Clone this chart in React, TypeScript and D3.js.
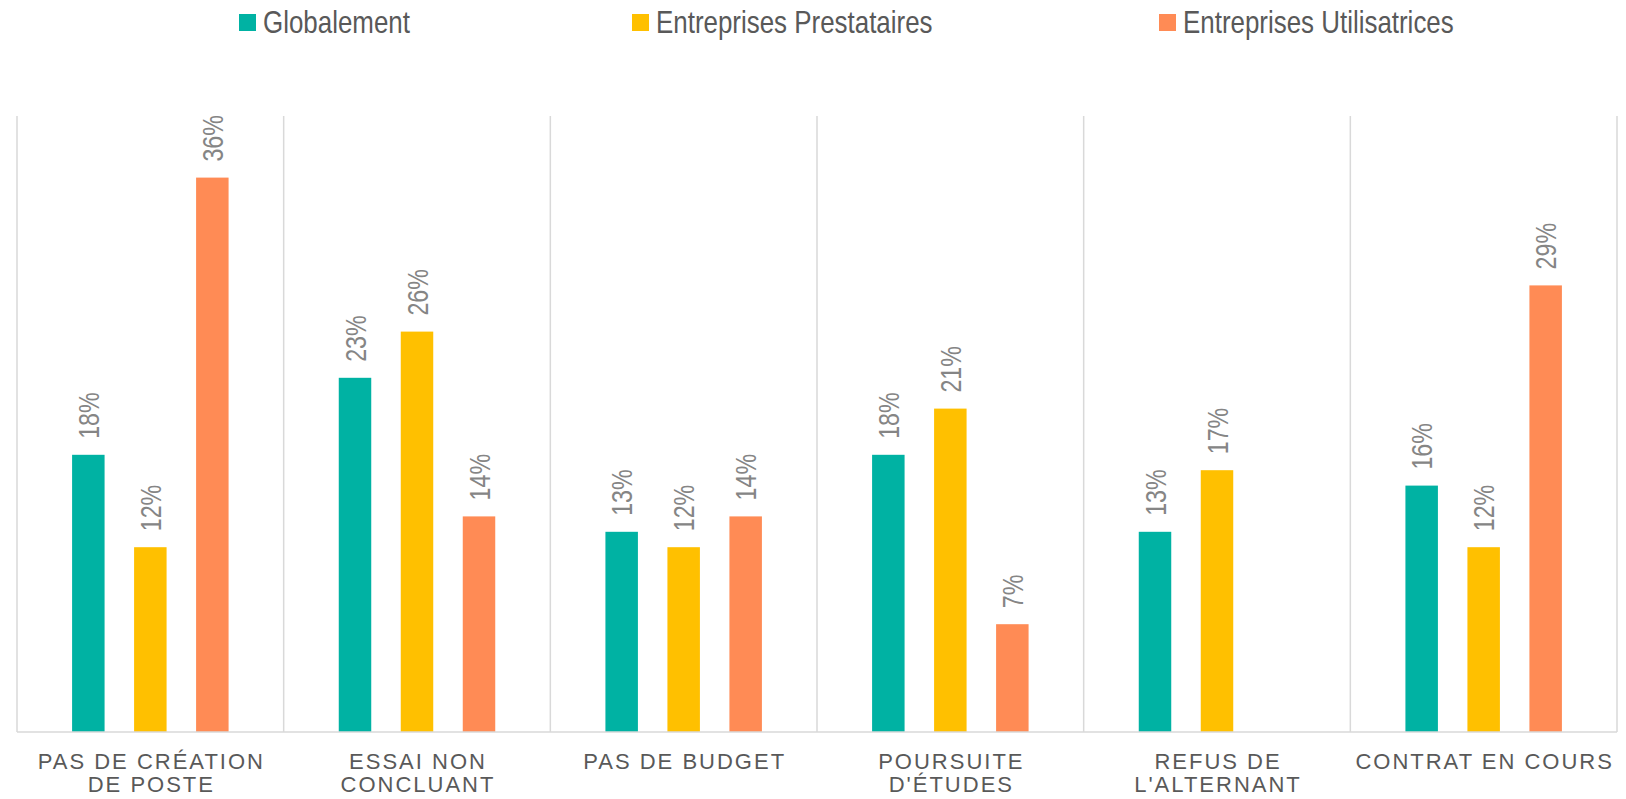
import React, { useEffect } from "react";
import * as d3 from "d3";

const categories: string[][] = [
  ["PAS DE CRÉATION", "DE POSTE"],
  ["ESSAI NON", "CONCLUANT"],
  ["PAS DE BUDGET"],
  ["POURSUITE", "D'ÉTUDES"],
  ["REFUS DE", "L'ALTERNANT"],
  ["CONTRAT EN COURS"],
];
const seriesNames = ["Globalement", "Entreprises Prestataires", "Entreprises Utilisatrices"];
const globalement = [18, 23, 13, 18, 13, 16];
const prestataires = [12, 26, 12, 21, 17, 12];
const utilisatrices: (number | null)[] = [36, 14, 14, 7, null, 29];
const colors = ["#00B2A3", "#FFC000", "#FF8B55"];

const W = 1626;
const H = 799;
const plot = { left: 17, right: 1617, top: 116, bottom: 732 };
const legendX = [239, 632, 1159];

export default function App() {
  useEffect(() => {
    document.body.style.margin = "0";
  }, []);

  const series = [globalement, prestataires, utilisatrices];
  const catIdx = categories.map((_, i) => String(i));
  const x0 = d3.scaleBand<string>().domain(catIdx).range([plot.left, plot.right]).padding(0);
  const x1 = d3
    .scaleBand<string>()
    .domain(seriesNames)
    .range([-93, 93])
    .paddingInner(0.476)
    .paddingOuter(0.238);
  const y = d3.scaleLinear().domain([0, 40]).range([plot.bottom, plot.top]);

  const dividers = d3.range(categories.length + 1).map((i) =>
    i < categories.length ? (x0(String(i)) as number) : plot.right
  );

  return (
    <div style={{ position: "absolute", left: 0, top: 0, width: W, height: H, overflow: "hidden" }}>
      <svg width={W} height={H} style={{ display: "block", background: "#fff" }}>
        {/* Legend */}
        {seriesNames.map((s, i) => (
          <g key={s}>
            <rect x={legendX[i]} y={14} width={17} height={17} fill={colors[i]} />
            <text
              transform={`translate(${legendX[i] + 24},33) scale(0.81,1)`}
              fontFamily="'Liberation Sans', Arial, sans-serif"
              fontSize={32}
              fill="#595959"
            >
              {s}
            </text>
          </g>
        ))}

        {/* Grid dividers */}
        {dividers.map((dx, i) => (
          <line
            key={i}
            x1={dx}
            x2={dx}
            y1={plot.top}
            y2={plot.bottom}
            stroke="#D9D9D9"
            strokeWidth={1.5}
          />
        ))}

        {/* Bars */}
        {categories.map((_, ci) => {
          const cx = (x0(String(ci)) as number) + x0.bandwidth() / 2;
          return (
            <g key={ci}>
              {series.map((vals, si) => {
                const v = vals[ci];
                if (v === null || v === undefined) return null;
                const bx = cx + (x1(seriesNames[si]) as number);
                const bw = x1.bandwidth();
                const top = y(v);
                const lx = bx + bw / 2;
                return (
                  <g key={si}>
                    <rect x={bx} y={top} width={bw} height={plot.bottom - top} fill={colors[si]} />
                    <text
                      transform={`translate(${lx + 10.5},${top - 16}) rotate(-90) scale(0.8,1)`}
                      fontFamily="'Liberation Sans', Arial, sans-serif"
                      fontSize={29}
                      fill="#858585"
                      textAnchor="start"
                    >
                      {`${v}%`}
                    </text>
                  </g>
                );
              })}
            </g>
          );
        })}

        {/* Baseline */}
        <line
          x1={plot.left}
          x2={plot.right}
          y1={plot.bottom}
          y2={plot.bottom}
          stroke="#D9D9D9"
          strokeWidth={1.5}
        />

        {/* Category labels */}
        {categories.map((lines, ci) => {
          const cx = (x0(String(ci)) as number) + x0.bandwidth() / 2;
          return (
            <text
              key={ci}
              fontFamily="'Liberation Sans', Arial, sans-serif"
              fontSize={22}
              fill="#595959"
              textAnchor="middle"
              letterSpacing={2}
            >
              {lines.map((l, li) => (
                <tspan key={li} x={cx + 1} y={769 + li * 23.3}>
                  {l}
                </tspan>
              ))}
            </text>
          );
        })}
      </svg>
    </div>
  );
}
